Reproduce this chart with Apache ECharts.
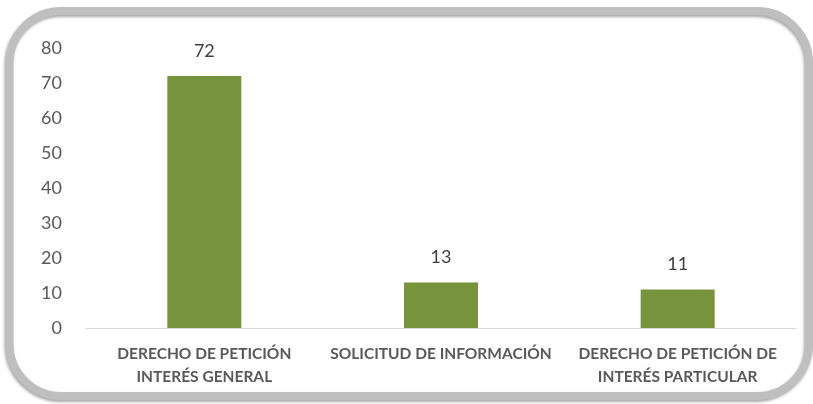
<!DOCTYPE html>
<html>
<head>
<meta charset="utf-8">
<script src="https://cdn.jsdelivr.net/npm/echarts@6/dist/echarts.min.js"></script>
<style>
    html, body { margin: 0; padding: 0; background: #fff; }
    #chart { width: 813px; height: 404px; }
</style>
</head>
<body>
<div id="chart"></div>
<script>
// categorias y valores
var categorias = ['DERECHO DE PETICIÓN\nINTERÉS GENERAL', 'SOLICITUD DE INFORMACIÓN', 'DERECHO DE PETICIÓN DE\nINTERÉS PARTICULAR'];
var valores = [72, 13, 11];

var fuente = 'Lato, "Open Sans", sans-serif';

var grafico = echarts.init(document.getElementById('chart'));
var option = {
    backgroundColor: '#ffffff',
    animation: false,
    graphic: [{
        type: 'rect',
        shape: { x: 9.5, y: 11, width: 799.5, height: 385, r: 52 },
        style: {
            fill: 'none',
            stroke: '#bfbfbf',
            lineWidth: 8,
            shadowColor: 'rgba(0,0,0,0.35)',
            shadowBlur: 3,
            shadowOffsetX: -1,
            shadowOffsetY: 2
        },
        z: -1
    }],
    grid: { left: 86, right: 17, top: 48, bottom: 76 },
    xAxis: {
        type: 'category',
        data: categorias,
        axisLine: { lineStyle: { color: '#d9d9d9', width: 1 } },
        axisTick: { show: false },
        axisLabel: {
            interval: 0,
            color: '#595959',
            fontFamily: fuente,
            fontWeight: 'bold',
            fontSize: 15.5,
            lineHeight: 23,
            margin: 14
        }
    },
    yAxis: {
        type: 'value',
        min: 0,
        max: 80,
        interval: 10,
        axisLine: { show: false },
        axisTick: { show: false },
        splitLine: { show: false },
        axisLabel: {
            color: '#595959',
            fontFamily: fuente,
            fontSize: 18,
            margin: 24
        }
    },
    series: [{
        type: 'bar',
        data: valores,
        barWidth: 74,
        itemStyle: { color: '#77933c' },
        label: {
            show: true,
            position: 'top',
            distance: 16,
            color: '#404040',
            fontFamily: fuente,
            fontSize: 18
        }
    }]
};
grafico.setOption(option);
</script>
</body>
</html>
